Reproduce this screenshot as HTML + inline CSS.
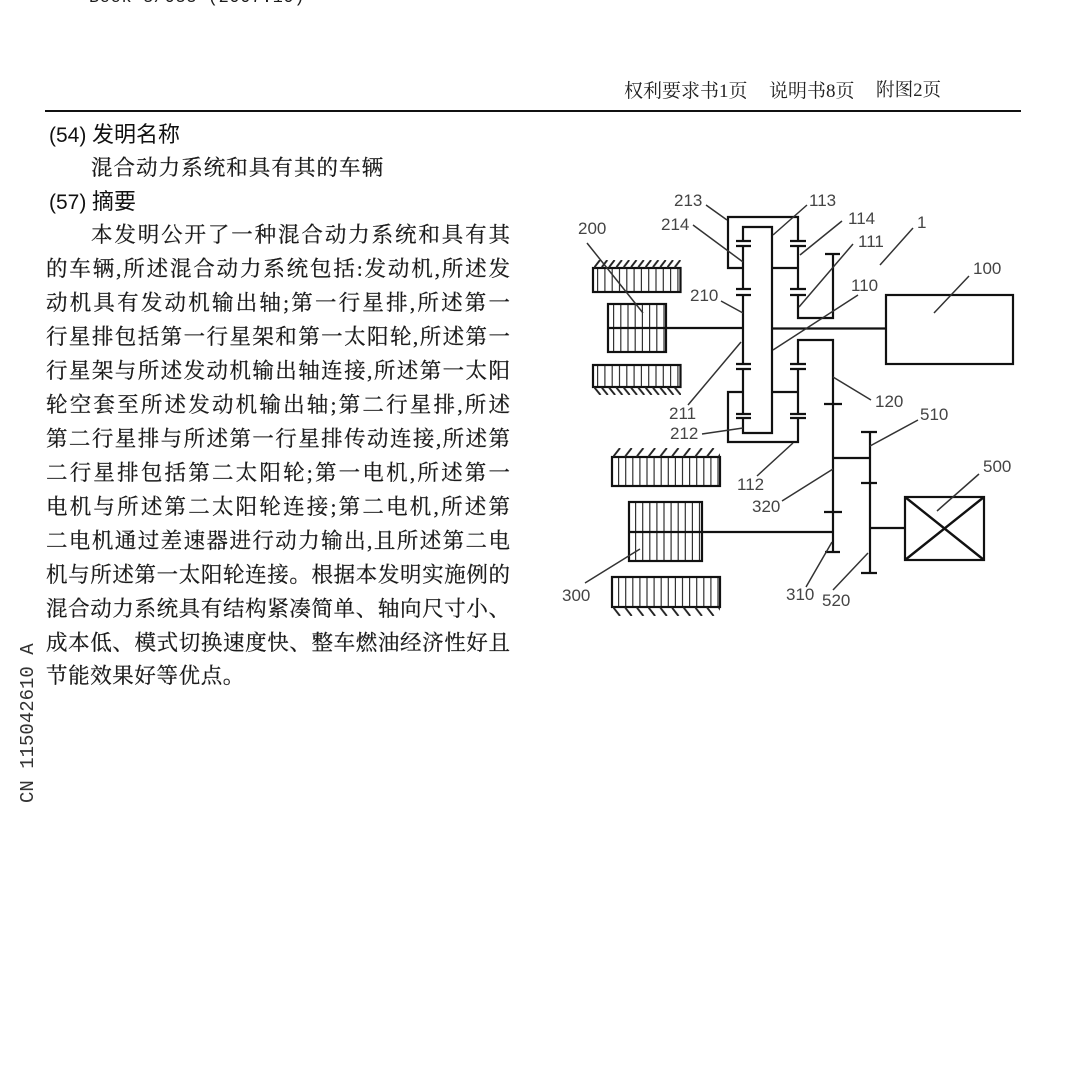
<!DOCTYPE html>
<html lang="zh">
<head>
<meta charset="utf-8">
<style>
html,body{margin:0;padding:0;background:#fff}
#p{position:relative;width:1082px;height:1082px;overflow:hidden;background:#fff;color:#1a1a1a;font-family:"Liberation Serif","Noto Serif CJK SC",serif;filter:blur(.35px)}
#p div{position:absolute;white-space:nowrap;line-height:1}
.l{left:46px;width:464px;font-size:21.5px;height:22px;text-align:justify;text-align-last:justify;white-space:normal!important;overflow:visible;-webkit-text-stroke:.25px #1a1a1a}
.h{font-family:"Liberation Sans","Noto Sans CJK SC",sans-serif;color:#111}
svg{position:absolute;left:0;top:0}
svg text{font-family:"Liberation Sans",sans-serif;font-size:17px;fill:#444}
</style>
</head>
<body>
<div id="p">
<div style="left:89px;top:-10px;font-size:17px;letter-spacing:.6px;font-family:'Liberation Mono',monospace">Book 3/033 (2007.10)</div>
<div style="left:624px;top:82px;font-size:19px;color:#222">权利要求书1页</div>
<div style="left:769px;top:82px;font-size:19px;color:#222">说明书8页</div>
<div style="left:876px;top:82px;font-size:18.6px;color:#222">附图2页</div>
<div style="left:45px;top:110px;width:976px;height:2px;background:#111"></div>
<div class="h" style="left:49px;top:125px;font-size:21px">(54)</div>
<div class="h" style="left:92px;top:124px;font-size:22px">发明名称</div>
<div style="left:91px;top:158px;font-size:21.5px;letter-spacing:1.05px;-webkit-text-stroke:.25px #1a1a1a">混合动力系统和具有其的车辆</div>
<div class="h" style="left:49px;top:192px;font-size:21px">(57)</div>
<div class="h" style="left:92px;top:191px;font-size:22px">摘要</div>
<div class="l" style="left:91px;width:419px;top:225px">本发明公开了一种混合动力系统和具有其</div>
<div class="l" style="top:259px">的车辆,所述混合动力系统包括:发动机,所述发</div>
<div class="l" style="top:293px">动机具有发动机输出轴;第一行星排,所述第一</div>
<div class="l" style="top:327px">行星排包括第一行星架和第一太阳轮,所述第一</div>
<div class="l" style="top:361px">行星架与所述发动机输出轴连接,所述第一太阳</div>
<div class="l" style="top:395px">轮空套至所述发动机输出轴;第二行星排,所述</div>
<div class="l" style="top:429px">第二行星排与所述第一行星排传动连接,所述第</div>
<div class="l" style="top:463px">二行星排包括第二太阳轮;第一电机,所述第一</div>
<div class="l" style="top:497px">电机与所述第二太阳轮连接;第二电机,所述第</div>
<div class="l" style="top:531px">二电机通过差速器进行动力输出,且所述第二电</div>
<div class="l" style="top:565px">机与所述第一太阳轮连接。根据本发明实施例的</div>
<div class="l" style="top:599px">混合动力系统具有结构紧凑简单、轴向尺寸小、</div>
<div class="l" style="top:633px">成本低、模式切换速度快、整车燃油经济性好且</div>
<div style="left:46px;top:666px;font-size:21.500px;letter-spacing:.6px;-webkit-text-stroke:.25px #1a1a1a">节能效果好等优点。</div>
<div style="left:29px;top:803px;font-size:19px;font-family:'Liberation Mono',monospace;color:#333;transform-origin:0 0;transform:rotate(-90deg) translateY(-10px)">CN 115042610 A</div>

<svg width="1082" height="1082" viewBox="0 0 1082 1082">
<defs>
<pattern id="a" x="594" y="260" width="7.3" height="8" patternUnits="userSpaceOnUse"><path d="M-.5 8.5L6 0" stroke="#222" stroke-width="1.9"/></pattern>
<pattern id="b" x="594" y="387" width="7.3" height="8" patternUnits="userSpaceOnUse"><path d="M0 0L6.5 8" stroke="#222" stroke-width="1.9"/></pattern>
<pattern id="c" x="613" y="448" width="11.7" height="9" patternUnits="userSpaceOnUse"><path d="M0 9L7 0" stroke="#222" stroke-width="1.9"/></pattern>
<pattern id="d" x="613" y="607" width="11.7" height="9" patternUnits="userSpaceOnUse"><path d="M0 0L7 9" stroke="#222" stroke-width="1.9"/></pattern>
</defs>
<g fill="none" stroke="#111" stroke-width="2.2">
<!-- motor 200 -->
<path d="M597 280H680" stroke-width="24" stroke-dasharray="1.2 6.1" stroke="#333"/>
<path d="M597 376H680" stroke-width="22" stroke-dasharray="1.2 6.1" stroke="#333"/>
<path d="M613 328H666" stroke-width="48" stroke-dasharray="1.2 6" stroke="#333"/>
<rect x="593" y="268" width="87.500" height="24"/>
<rect x="593" y="365" width="87.500" height="22"/>
<rect x="608" y="304" width="58" height="48"/>
<rect x="594" y="260" width="87" height="8" fill="url(#a)" stroke="none"/>
<rect x="594" y="387" width="87" height="8" fill="url(#b)" stroke="none"/>
<!-- motor 300 -->
<path d="M618 471.500H720" stroke-width="29" stroke-dasharray="1.2 5.9" stroke="#333"/>
<path d="M618 592H720" stroke-width="30" stroke-dasharray="1.2 5.9" stroke="#333"/>
<path d="M635 531.500H702" stroke-width="59" stroke-dasharray="1.2 5.9" stroke="#333"/>
<rect x="612" y="457" width="108" height="29"/>
<rect x="612" y="577" width="108" height="30"/>
<rect x="629" y="502" width="73" height="59"/>
<rect x="613" y="448" width="107" height="9" fill="url(#c)" stroke="none"/>
<rect x="613" y="607" width="107" height="9" fill="url(#d)" stroke="none"/>
<!-- shafts -->
<path d="M608 328H743M772 328.500H886M629 532H833"/>
<!-- planetary -->
<path d="M743 268H728V217H798V241M798 246V289M798 295V318H833V254M825 254H840M772 268H798"/>
<path d="M743 241V227H772V433H743V418M743 414V369M743 364V295M743 289V246"/>
<path d="M743 392H728V442H798V418M798 414V369M798 364V340H833V552M825 552H840M772 392H798"/>
<!-- gear teeth -->
<path d="M736 241H751M736 246H751M736 289H751M736 295H751M736 364H751M736 369H751M736 414H751M736 418H751"/>
<path d="M790 241H806M790 246H806M790 289H806M790 295H806M790 364H806M790 369H806M790 414H806M790 418H806"/>
<path d="M824 404H842M824 512H842M833 458H870M861 432H877M861 573H877M861 483H877M870 432V573M870 528H905"/>
<!-- boxes -->
<rect x="886" y="295" width="127" height="69"/>
<rect x="905" y="497" width="79" height="63"/>
<path d="M905 497L984 560M984 497L905 560" stroke-width="2.400"/>
</g>
<!-- leaders -->
<path fill="none" stroke="#333" stroke-width="1.500" d="M706 205L727 220M693 225L743 262M807 205L773 235M842 221L800 255M853 244L799 307M858 295L773 350M913 228L880 265M969 276L934 313M833 377L871 400M918 420L870 446M979 474L937 511M868 553L833 590M832 542L806 587M833 469L782 501M640 549L585 583M793 443L757 476M702 434L743 428M741 342L688 405M721 301L743 313M587 243L643 313"/>
<text x="674" y="206">213</text>
<text x="661" y="230">214</text>
<text x="809" y="206">113</text>
<text x="848" y="224">114</text>
<text x="858" y="247">111</text>
<text x="851" y="291">110</text>
<text x="917" y="228">1</text>
<text x="973" y="274">100</text>
<text x="875" y="407">120</text>
<text x="920" y="420">510</text>
<text x="983" y="472">500</text>
<text x="578" y="234">200</text>
<text x="690" y="301">210</text>
<text x="669" y="419">211</text>
<text x="670" y="439">212</text>
<text x="737" y="490">112</text>
<text x="752" y="512">320</text>
<text x="562" y="601">300</text>
<text x="786" y="600">310</text>
<text x="822" y="606">520</text>
</svg>
</div>
</body>
</html>
